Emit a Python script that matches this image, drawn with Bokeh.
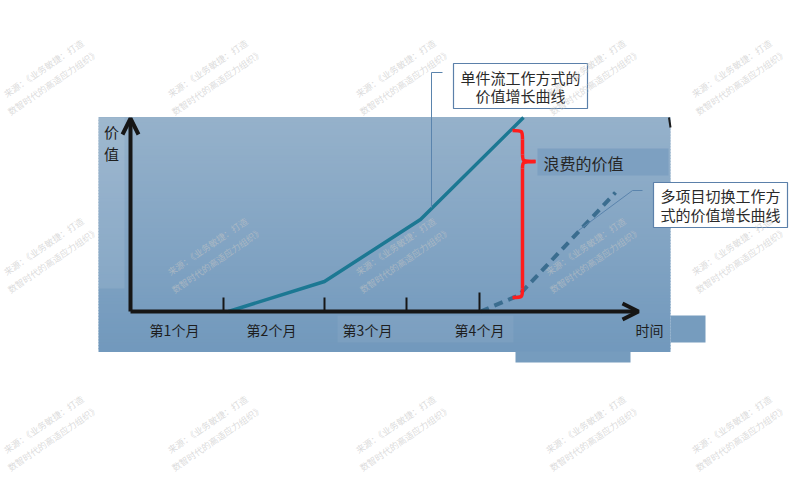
import numpy as np
from bokeh.plotting import figure
from bokeh.models import Range1d, Arrow, OpenHead
from bokeh.core.properties import value
from bokeh.embed import file_html
from bokeh.resources import INLINE

# ---------------- data (chart units: 1 unit = one hundred drawing points) -------------
month_labels = ["第1个月", "第2个月", "第3个月", "第4个月"]
tick_x = [0.93, 1.94, 2.76, 3.49]
tick_h = [0.14, 0.14, 0.14, 0.19]
label_x = [0.44, 1.41, 2.37, 3.49]

single_x = [0.98, 1.94, 2.90, 3.93]      # 单件流工作方式
single_y = [0.00, 0.30, 0.92, 1.94]
multi_x = [3.50, 3.88, 4.85]             # 多项目切换工作方式
multi_y = [0.00, 0.16, 1.19]

waste_x = 3.92
waste_top = 1.81
waste_bottom = 0.14

x_axis_end = 5.08
y_axis_end = 1.93

# ---------------- layout helpers (reference-pixel -> chart units) ---------------------
OX, OY, S = 130.0, 311.0, 100.0
def dx(X):
    return (X - OX) / S
def dy(Y):
    return (OY - Y) / S

FONT = value("Noto Sans CJK SC")

p = figure(width=792, height=492, output_backend="svg", toolbar_location=None,
           x_range=Range1d(dx(0), dx(792)), y_range=Range1d(dy(492), dy(0)),
           x_axis_location=None, y_axis_location=None, min_border=0)
p.grid.visible = False
p.outline_line_color = None
p.background_fill_color = "white"
p.border_fill_color = "white"

# ---------------- background panel (vertical gradient) -------------------------------
n = 80
edges = np.linspace(117, 351, n + 1)
top_c = np.array([150, 178, 203])
bot_c = np.array([114, 153, 189])
cols = []
for i in range(n):
    t = (i + 0.5) / n
    c = (top_c * (1 - t) + bot_c * t).astype(int)
    cols.append("#%02x%02x%02x" % tuple(c))
p.quad(left=[dx(98)] * n, right=[dx(670)] * n,
       top=[dy(e - 0.6) for e in edges[:-1]], bottom=[dy(e + 0.6) for e in edges[1:]],
       fill_color=cols, line_color=None)
# lighter strip at left
p.quad(left=dx(98), right=dx(124), top=dy(117), bottom=dy(288),
       fill_color="white", fill_alpha=0.09, line_color=None)
# extra bits of panel
p.quad(left=[dx(670), dx(515)], right=[dx(705), dx(630)],
       top=[dy(315), dy(351)], bottom=[dy(342), dy(362)],
       fill_color="#769cbe", line_color=None)
# lighter label band
p.quad(left=dx(337), right=dx(513), top=dy(315), bottom=dy(342),
       fill_color="white", fill_alpha=0.06, line_color=None)
# label box for 浪费的价值
p.quad(left=dx(537), right=dx(668), top=dy(148), bottom=dy(175),
       fill_color="#7a9dbf", fill_alpha=0.85, line_color=None)
# small dark mark top right
p.segment(x0=dx(668.5), y0=dy(117), x1=dx(670), y1=dy(127), line_color="#1a1a1a", line_width=2)

# ---------------- axes -----------------------------------------------------------------
AX = "#161616"
p.add_layout(Arrow(end=OpenHead(size=16, line_width=4, line_color=AX),
                   x_start=0, y_start=0, x_end=x_axis_end, y_end=0,
                   line_width=4, line_color=AX))
p.add_layout(Arrow(end=OpenHead(size=16, line_width=4, line_color=AX),
                   x_start=0, y_start=0, x_end=0, y_end=y_axis_end,
                   line_width=4, line_color=AX))
p.segment(x0=tick_x, y0=[0] * 4, x1=tick_x, y1=tick_h, line_color=AX, line_width=2)

p.text(x=label_x, y=[dy(329)] * 4, text=month_labels, text_font=FONT,
       text_font_size="14px", text_align="center", text_baseline="middle", text_color="#1e1e1e")
p.text(x=[dx(649)], y=[dy(329)], text=["时间"], text_font=FONT,
       text_font_size="14px", text_align="center", text_baseline="middle", text_color="#1e1e1e")
p.text(x=[dx(111), dx(111)], y=[dy(131), dy(153)], text=["价", "值"], text_font=FONT,
       text_font_size="15px", text_align="center", text_baseline="middle", text_color="#1e1e1e")

# ---------------- series -----------------------------------------------------------------
p.line(single_x, single_y, line_color="#1c7893", line_width=3.5)
p.line(multi_x, multi_y, line_color="#3b6d8f", line_width=4, line_dash="9 6")

# ---------------- brace (wasted value) --------------------------------------------------
RED = "#ff1c1c"
bx = waste_x
mid = dy(161)
tip = dx(535)
hw = 0.10
p.bezier(x0=[bx - hw, bx, tip, bx], y0=[waste_top, mid + 0.07, mid, waste_bottom + 0.09],
         x1=[bx, tip, bx, bx - hw], y1=[waste_top - 0.09, mid, mid - 0.07, waste_bottom],
         cx0=[bx, bx, bx, bx], cy0=[waste_top, mid, mid, waste_bottom],
         cx1=[bx, bx, bx, bx], cy1=[waste_top, mid, mid, waste_bottom],
         line_color=RED, line_width=3.5)
p.segment(x0=[bx, bx], y0=[waste_top - 0.09, mid - 0.07], x1=[bx, bx], y1=[mid + 0.07, waste_bottom + 0.09],
          line_color=RED, line_width=3.5)
p.text(x=[dx(543)], y=[dy(162)], text=["浪费的价值"], text_font=FONT,
       text_font_size="16px", text_align="left", text_baseline="middle", text_color="#262626")

# ---------------- callouts --------------------------------------------------------------
LEAD = "#5a84ad"
p.line([dx(442), dx(431), dx(431)], [dy(72), dy(72), dy(207)], line_color=LEAD, line_width=1)
p.line([dx(642), dx(632), dx(578)], [dy(190), dy(190), dy(230)], line_color=LEAD, line_width=1)
p.quad(left=[dx(453), dx(653)], right=[dx(587), dx(787)], top=[dy(63), dy(182)], bottom=[dy(108), dy(227)],
       fill_color="white", line_color="#5b80aa", line_width=1.2)
p.text(x=[dx(520)] * 2 + [dx(720)] * 2, y=[dy(77), dy(95), dy(195), dy(214)],
       text=["单件流工作方式的", "价值增长曲线", "多项目切换工作方", "式的价值增长曲线"],
       text_font=FONT, text_font_size="15px", text_align="center", text_baseline="middle",
       text_color="#2a2a2a")

# ---------------- watermarks ------------------------------------------------------------
wm_x, wm_y = [], []
for Y in (75, 253, 431):
    for X in (48, 212, 400, 590, 736):
        wm_x.append(dx(X))
        wm_y.append(dy(Y))
p.text(x=wm_x, y=wm_y, text=["来源：《业务敏捷：打造\n数智时代的高适应力组织》"] * len(wm_x),
       angle=0.6, text_font=FONT, text_font_size="9px", text_align="center", text_baseline="middle",
       text_color="#c4c4c4", text_alpha=0.6, text_line_height=1.3)

open("out.html", "w").write(file_html(p, INLINE))
